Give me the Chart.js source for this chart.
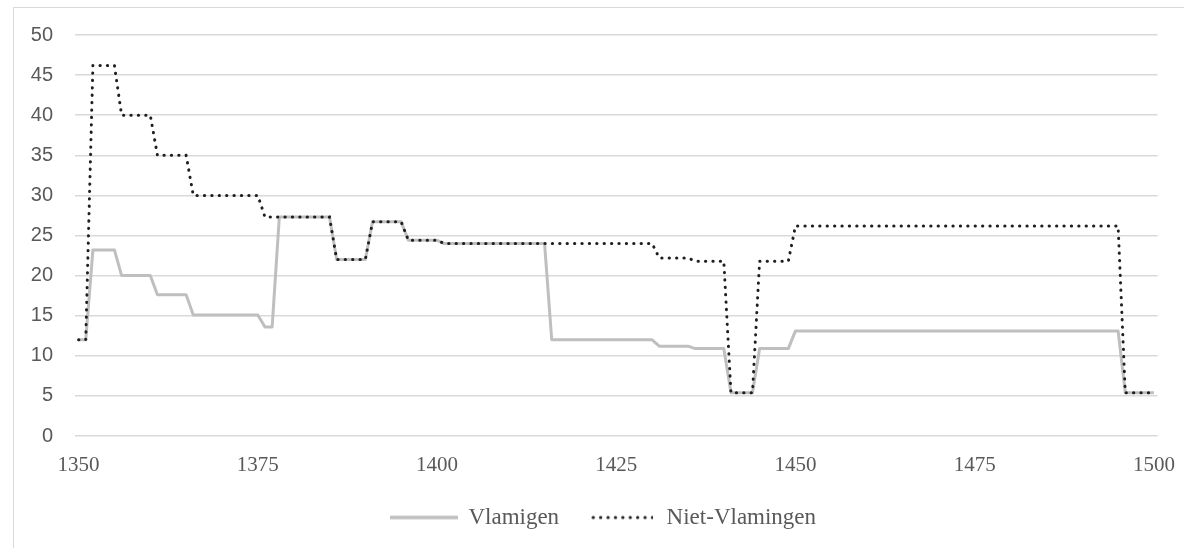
<!DOCTYPE html>
<html>
<head>
<meta charset="utf-8">
<script src="https://cdn.jsdelivr.net/npm/chart.js@4"></script>
<style>
  html, body { margin: 0; padding: 0; background: #fff; overflow: hidden; }
  #wrap { position: relative; width: 1184px; height: 548px; }
  #frame { position: absolute; left: 13px; top: 7px; width: 1200px; height: 600px; border: 1px solid #d9d9d9; }
  #chart { position: absolute; left: 0; top: 0; }
</style>
</head>
<body>
<div id="wrap">
  <div id="frame"></div>
  <canvas id="chart" width="1184" height="548"></canvas>
</div>
<script>
// years 1350 .. 1500, one value per year
const years = [];
for (let y = 1350; y <= 1500; y++) years.push(String(y));

const xTickLabels = ['1350', '1375', '1400', '1425', '1450', '1475', '1500'];
const yTicks = [0, 5, 10, 15, 20, 25, 30, 35, 40, 45, 50];

const vlamigen = [
  12, 12, 23.2, 23.2, 23.2, 23.2, 20, 20, 20, 20,                    // 1350
  20, 17.6, 17.6, 17.6, 17.6, 17.6, 15.1, 15.1, 15.1, 15.1,          // 1360
  15.1, 15.1, 15.1, 15.1, 15.1, 15.1, 13.6, 13.6, 27.3, 27.3,        // 1370
  27.3, 27.3, 27.3, 27.3, 27.3, 27.3, 22, 22, 22, 22,                // 1380
  22, 26.7, 26.7, 26.7, 26.7, 26.7, 24.4, 24.4, 24.4, 24.4,          // 1390
  24.4, 24, 24, 24, 24, 24, 24, 24, 24, 24,                          // 1400
  24, 24, 24, 24, 24, 24, 12, 12, 12, 12,                            // 1410
  12, 12, 12, 12, 12, 12, 12, 12, 12, 12,                            // 1420
  12, 11.2, 11.2, 11.2, 11.2, 11.2, 10.9, 10.9, 10.9, 10.9,          // 1430
  10.9, 5.4, 5.4, 5.4, 5.4, 10.9, 10.9, 10.9, 10.9, 10.9,            // 1440
  13.1, 13.1, 13.1, 13.1, 13.1, 13.1, 13.1, 13.1, 13.1, 13.1,        // 1450
  13.1, 13.1, 13.1, 13.1, 13.1, 13.1, 13.1, 13.1, 13.1, 13.1,        // 1460
  13.1, 13.1, 13.1, 13.1, 13.1, 13.1, 13.1, 13.1, 13.1, 13.1,        // 1470
  13.1, 13.1, 13.1, 13.1, 13.1, 13.1, 13.1, 13.1, 13.1, 13.1,        // 1480
  13.1, 13.1, 13.1, 13.1, 13.1, 13.1, 5.4, 5.4, 5.4, 5.4,            // 1490
  5.4                                                                // 1500
];

const nietVlamingen = [
  12, 12, 46.2, 46.2, 46.2, 46.2, 40, 40, 40, 40,                    // 1350
  40, 35, 35, 35, 35, 35, 30, 30, 30, 30,                            // 1360
  30, 30, 30, 30, 30, 30, 27.3, 27.3, 27.3, 27.3,                    // 1370
  27.3, 27.3, 27.3, 27.3, 27.3, 27.3, 22, 22, 22, 22,                // 1380
  22, 26.7, 26.7, 26.7, 26.7, 26.7, 24.4, 24.4, 24.4, 24.4,          // 1390
  24.4, 24, 24, 24, 24, 24, 24, 24, 24, 24,                          // 1400
  24, 24, 24, 24, 24, 24, 24, 24, 24, 24,                            // 1410
  24, 24, 24, 24, 24, 24, 24, 24, 24, 24,                            // 1420
  24, 22.2, 22.2, 22.2, 22.2, 22.2, 21.8, 21.8, 21.8, 21.8,          // 1430
  21.8, 5.4, 5.4, 5.4, 5.4, 21.8, 21.8, 21.8, 21.8, 21.8,            // 1440
  26.2, 26.2, 26.2, 26.2, 26.2, 26.2, 26.2, 26.2, 26.2, 26.2,        // 1450
  26.2, 26.2, 26.2, 26.2, 26.2, 26.2, 26.2, 26.2, 26.2, 26.2,        // 1460
  26.2, 26.2, 26.2, 26.2, 26.2, 26.2, 26.2, 26.2, 26.2, 26.2,        // 1470
  26.2, 26.2, 26.2, 26.2, 26.2, 26.2, 26.2, 26.2, 26.2, 26.2,        // 1480
  26.2, 26.2, 26.2, 26.2, 26.2, 26.2, 5.4, 5.4, 5.4, 5.4,            // 1490
  5.4                                                                // 1500
];

const textColor = '#595959';
const gridColor = '#d9d9d9';
const grayLine = '#bfbfbf';
const dotColor = '#1f1f1f';
const dots = [0.3, 7.1];

// small legend swatches, since the built-in line marker ignores the dash
function swatch(w, color, width, dash) {
  const c = document.createElement('canvas');
  c.width = w;
  c.height = 8;
  const g = c.getContext('2d');
  g.strokeStyle = color;
  g.lineWidth = width;
  g.lineCap = dash ? 'round' : 'butt';
  if (dash) g.setLineDash(dash);
  g.beginPath();
  g.moveTo(dash ? 2 : 0, 4);
  g.lineTo(w, 4);
  g.stroke();
  return c;
}

// the legend sits a little right of centre in the original
const legendShift = {
  id: 'legendShift',
  afterLayout(chart) {
    chart.legend.left += 21;
    chart.legend.right += 21;
  }
};

new Chart(document.getElementById('chart'), {
  type: 'line',
  data: {
    labels: years,
    datasets: [
      {
        label: 'Vlamigen',
        data: vlamigen,
        borderColor: grayLine,
        backgroundColor: grayLine,
        borderWidth: 3,
        borderJoinStyle: 'round',
        pointRadius: 0,
        pointStyle: swatch(68, grayLine, 3.5, null),
        tension: 0,
        order: 2
      },
      {
        label: 'Niet-Vlamingen',
        data: nietVlamingen,
        borderColor: dotColor,
        backgroundColor: dotColor,
        borderWidth: 3,
        borderDash: dots,
        borderCapStyle: 'round',
        pointRadius: 0,
        pointStyle: swatch(62, dotColor, 3, dots),
        tension: 0,
        order: 1
      }
    ]
  },
  options: {
    responsive: false,
    animation: false,
    layout: { padding: { left: 0, right: 19, top: 35, bottom: 9 } },
    plugins: {
      tooltip: { enabled: false },
      legend: {
        position: 'bottom',
        labels: {
          usePointStyle: true,
          pointStyleWidth: 66,
          padding: 30,
          color: textColor,
          font: { family: 'Liberation Serif', size: 23 },
          sort: (a, b) => a.datasetIndex - b.datasetIndex
        }
      }
    },
    scales: {
      x: {
        offset: true,
        grid: { display: false },
        border: { display: false },
        ticks: {
          autoSkip: false,
          maxRotation: 0,
          padding: 9,
          color: textColor,
          font: { family: 'Liberation Serif', size: 21 },
          callback: function (val, i) {
            return xTickLabels.includes(years[i]) ? years[i] : '';
          }
        },
        afterFit: function (scale) { scale.height = 40; }
      },
      y: {
        min: 0,
        max: 50,
        grid: { color: gridColor, lineWidth: 1.5, drawTicks: false },
        border: { display: false },
        ticks: {
          padding: 22,
          color: textColor,
          font: { family: 'Liberation Sans', size: 20 }
        },
        afterBuildTicks: function (scale) {
          scale.ticks = yTicks.map(v => ({ value: v }));
        },
        afterFit: function (scale) { scale.width = 75; }
      }
    }
  },
  plugins: [legendShift]
});
</script>
</body>
</html>
